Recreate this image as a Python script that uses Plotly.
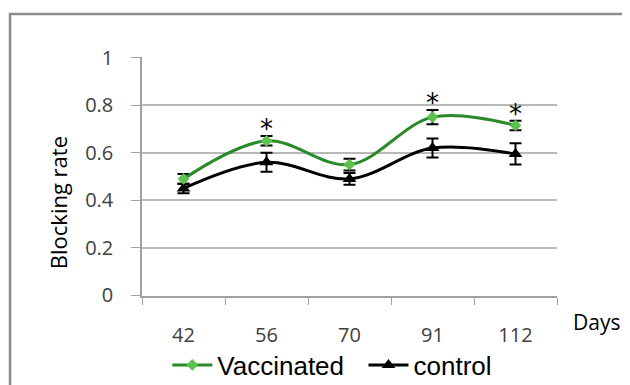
import plotly.graph_objects as go

days = ["42", "56", "70", "91", "112"]
vaccinated = [0.49, 0.65, 0.55, 0.75, 0.715]
vaccinated_err = [0.02, 0.02, 0.025, 0.03, 0.02]
control = [0.45, 0.56, 0.49, 0.62, 0.595]
control_err = [0.02, 0.04, 0.025, 0.04, 0.045]
significant = [False, True, False, True, True]
y_ticks = [0, 0.2, 0.4, 0.6, 0.8, 1]
y_tick_labels = ["0", "0.2", "0.4", "0.6", "0.8", "1"]

fig = go.Figure()
fig.add_trace(go.Scatter(
    x=days, y=control, name="control", mode="lines+markers",
    line=dict(color="black", width=3, shape="spline", smoothing=1.0),
    marker=dict(symbol="triangle-up", size=12, color="black"),
    error_y=dict(type="data", array=control_err, color="black", thickness=2, width=6),
))
fig.add_trace(go.Scatter(
    x=days, y=vaccinated, name="Vaccinated\u00a0\u00a0", mode="lines+markers",
    line=dict(color="#2a8a2a", width=3, shape="spline", smoothing=1.0),
    marker=dict(symbol="diamond", size=9, color="#5cc24c"),
    error_y=dict(type="data", array=vaccinated_err, color="black", thickness=2, width=6),
))

for i, (v, e, s) in enumerate(zip(vaccinated, vaccinated_err, significant)):
    if s:
        fig.add_annotation(x=i, y=v + e, text="*", showarrow=False, yanchor="bottom",
                           yshift=-10, font=dict(size=26, color="black", family="DejaVu Sans"))

fig.add_annotation(xref="paper", yref="paper", x=1.096, y=-0.109, text="Days", showarrow=False,
                   xanchor="center", yanchor="middle",
                   font=dict(size=21, color="black", family="Open Sans"))

fig.add_annotation(xref="paper", yref="paper", x=-0.202, y=0.389, text="Blocking rate",
                   showarrow=False, textangle=-90, xanchor="center", yanchor="middle",
                   font=dict(size=22, color="black", family="Open Sans"))

fig.add_shape(type="rect", xref="paper", yref="paper", x0=-0.318, y0=-2, x1=2, y1=1.18,
              line=dict(color="#8c8c8c", width=2.5), fillcolor="rgba(0,0,0,0)", layer="below")

fig.update_layout(
    width=630, height=385,
    margin=dict(l=134, r=81, t=49, b=97, autoexpand=False),
    paper_bgcolor="white", plot_bgcolor="white",
    font=dict(family="Open Sans", color="#404040", size=16),
    showlegend=True,
    legend=dict(orientation="h", x=0.061, xanchor="left", y=-0.289, yanchor="middle",
                traceorder="reversed", font=dict(size=26, color="black", family="Liberation Sans"),
                itemwidth=40, tracegroupgap=0, bgcolor="rgba(0,0,0,0)"),
    xaxis=dict(type="category", range=[-0.5, 4.5], tickson="boundaries", ticks="outside", ticklen=7,
               tickcolor="#a0a0a0", showline=True, linecolor="#a0a0a0", linewidth=1.5,
               showgrid=False, tickfont=dict(size=20, color="#404040"), tickangle=0,
               ticklabelstandoff=20, automargin=False),
    yaxis=dict(range=[-0.003, 1.003], tickvals=y_ticks, ticktext=y_tick_labels, ticks="outside",
               ticklen=9, tickcolor="#a0a0a0", showline=True, linecolor="#a0a0a0", linewidth=1.5,
               showgrid=True, gridcolor="#b8b8b8", gridwidth=1.5, zeroline=False,
               tickfont=dict(size=20, color="#404040"), automargin=False, ticklabelstandoff=14),
)

fig.write_html("out.html")
